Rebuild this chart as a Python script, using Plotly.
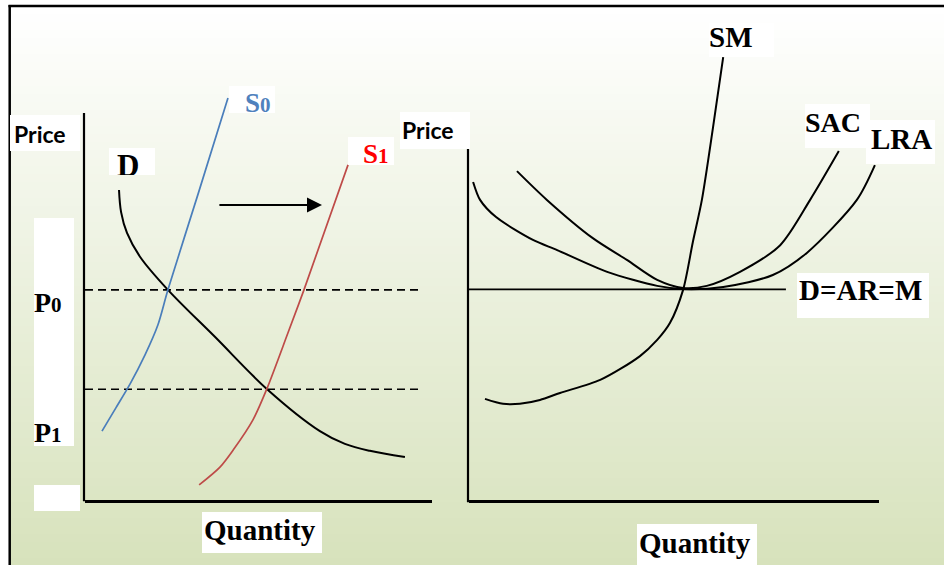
import plotly.graph_objects as go

W, H = 944, 565

# ---------------- Left panel: supply shift in the market ----------------
demand_q = [0.98, 1.04, 1.21, 1.59, 2.39, 3.75, 5.24, 6.77, 7.49, 8.21, 9.22]
demand_p = [8.01, 7.44, 6.90, 6.28, 5.43, 4.21, 2.87, 1.78, 1.45, 1.27, 1.11]

supply0_q = [0.49, 0.89, 1.30, 1.73, 2.10, 2.39, 3.26, 4.12]
supply0_p = [1.78, 2.38, 3.00, 3.75, 4.52, 5.43, 7.91, 10.39]

supply1_q = [3.29, 3.89, 4.27, 4.84, 5.24, 5.85, 6.31, 7.58]
supply1_p = [0.39, 0.85, 1.29, 2.07, 2.87, 4.32, 5.43, 8.66]

price_levels = [5.43, 2.86]          # P0, P1
price_dash_end = [9.60, 9.65]
shift_arrow_q = [3.83, 6.83]
shift_arrow_p = 7.62
left_price_top = 10.0

# ---------------- Right panel: the firm's cost curves ----------------
sm_q = [0.39, 0.83, 1.24, 1.73, 2.22, 3.20, 4.17, 4.59, 4.90, 5.22, 5.46, 5.68, 5.95, 6.20]
sm_p = [2.88, 2.74, 2.74, 2.85, 3.05, 3.42, 4.10, 4.56, 5.04, 5.98, 7.35, 8.55, 10.60, 12.62]

sac_q = [1.17, 1.90, 3.02, 3.85, 4.59, 5.22, 5.80, 6.61, 7.59, 8.32, 9.02]
sac_p = [9.37, 8.55, 7.46, 6.84, 6.27, 6.04, 6.10, 6.50, 7.26, 8.55, 9.94]

lra_q = [0.10, 0.27, 0.66, 1.56, 2.15, 3.37, 4.59, 5.22, 6.20, 7.41, 8.24, 9.46, 9.90]
lra_p = [9.06, 8.55, 8.06, 7.41, 7.12, 6.50, 6.10, 6.01, 6.07, 6.41, 7.04, 8.55, 9.54]

mr_price = 6.0
mr_end_q = 7.73
right_price_top = 10.0


def px(x):
    return x / W


def py(y):
    return 1 - y / H


LX_DOM, LY_DOM, LY_RANGE = [px(85), px(432)], [py(500), py(90)], [0, 410 / 38.7]
RX_DOM, RY_DOM, RY_RANGE = [px(469), px(879)], [py(500), py(50)], [0, 450 / 35.1]


def to_paper_y(v, dom, rng):
    return dom[0] + (v - rng[0]) / (rng[1] - rng[0]) * (dom[1] - dom[0])


fig = go.Figure()

BLUE, RED = "#4a7ebb", "#be4b48"

# left panel traces
for p, xe in zip(price_levels, price_dash_end):
    fig.add_trace(go.Scatter(x=[0, xe], y=[p, p], mode="lines",
                             line=dict(color="black", width=1.6, dash="8px,5px"),
                             xaxis="x", yaxis="y"))
fig.add_trace(go.Scatter(x=demand_q, y=demand_p, mode="lines",
                         line=dict(color="black", width=2, shape="spline", smoothing=1.0),
                         xaxis="x", yaxis="y"))
fig.add_trace(go.Scatter(x=supply0_q, y=supply0_p, mode="lines",
                         line=dict(color=BLUE, width=1.7, shape="spline", smoothing=0.8),
                         xaxis="x", yaxis="y"))
fig.add_trace(go.Scatter(x=supply1_q, y=supply1_p, mode="lines",
                         line=dict(color=RED, width=1.7, shape="spline", smoothing=0.8),
                         xaxis="x", yaxis="y"))

# right panel traces
fig.add_trace(go.Scatter(x=[0, mr_end_q], y=[mr_price, mr_price], mode="lines",
                         line=dict(color="black", width=1.8), xaxis="x2", yaxis="y2"))
for cq, cp in ((sm_q, sm_p), (sac_q, sac_p), (lra_q, lra_p)):
    fig.add_trace(go.Scatter(x=cq, y=cp, mode="lines",
                             line=dict(color="black", width=2, shape="spline", smoothing=0.8),
                             xaxis="x2", yaxis="y2"))

# the "D" label sits in its own small clipped box
fig.add_trace(go.Scatter(x=[0.42], y=[0.24], mode="text", text=["<b>D</b>"], cliponaxis=True,
                         textfont=dict(family="Liberation Serif", size=31, color="black",
                                       weight="bold"),
                         textposition="middle center", xaxis="x3", yaxis="y3"))

shapes = []
# background gradient inside the frame
top, bottom, n = 6, 566, 70
c0, c1 = (255, 255, 255), (215, 226, 188)
for i in range(n):
    y0 = top + (bottom - top) * i / n
    y1 = top + (bottom - top) * (i + 1) / n
    t = (i + 0.5) / n
    col = tuple(round(a + (b - a) * t) for a, b in zip(c0, c1))
    shapes.append(dict(type="rect", xref="paper", yref="paper", x0=px(10), x1=1.0,
                       y0=py(y1) - 0.001, y1=py(y0), fillcolor="rgb(%d,%d,%d)" % col,
                       line=dict(width=0), layer="below"))
# frame
shapes.append(dict(type="line", xref="paper", yref="paper", x0=px(9.7), x1=px(9.7), y0=0, y1=py(5),
                   line=dict(color="black", width=2.5), layer="below"))
shapes.append(dict(type="line", xref="paper", yref="paper", x0=px(8.5), x1=1, y0=py(6), y1=py(6),
                   line=dict(color="black", width=2.5), layer="below"))
# white label boxes
boxes = [(10, 115, 80, 151), (109, 148, 155, 175), (229, 86, 275, 113), (348, 137, 394, 165),
         (400, 112, 470, 149), (34, 218, 74, 446), (34, 485, 80, 511), (202, 512, 322, 553),
         (709, 23, 774, 57), (805, 104, 870, 148), (866, 120, 935, 164), (797, 273, 929, 318),
         (637, 524, 757, 565)]
for x0, y0, x1, y1 in boxes:
    shapes.append(dict(type="rect", xref="paper", yref="paper", x0=px(x0), x1=px(x1),
                       y0=py(y1), y1=py(y0), fillcolor="white", line=dict(width=0), layer="below"))
# vertical price axes
shapes.append(dict(type="line", xref="paper", yref="paper", x0=LX_DOM[0] - px(1), x1=LX_DOM[0] - px(1),
                   y0=LY_DOM[0] - 0.002, y1=to_paper_y(left_price_top, LY_DOM, LY_RANGE),
                   line=dict(color="black", width=2.2)))
shapes.append(dict(type="line", xref="paper", yref="paper", x0=RX_DOM[0] - px(1), x1=RX_DOM[0] - px(1),
                   y0=RY_DOM[0] - 0.004, y1=to_paper_y(right_price_top, RY_DOM, RY_RANGE),
                   line=dict(color="black", width=2.2)))

SERIF = "Liberation Serif"
SANS = "Lato"


def label(x, y, text, size, color="black", family=SERIF):
    return dict(x=px(x), y=py(y), xref="paper", yref="paper", text=text, showarrow=False,
                xanchor="center", yanchor="middle",
                font=dict(family=family, size=size, color=color, weight="bold"))


def sub(main, digit, size):
    return "<b>%s<span style='font-size:%dpx'>%s</span></b>" % (main, size, digit)


annotations = [
    label(40, 134, "<b>Price</b>", 23, family=SANS),
    label(428, 130, "<b>Price</b>", 23, family=SANS),
    label(258, 103, sub("S", "0", 21), 27, color="#4f81bd"),
    label(376, 154, sub("S", "1", 21), 27, color="#ff0000"),
    label(48, 302, sub("P", "0", 21), 28),
    label(48, 432, sub("P", "1", 21), 28),
    label(260, 530, "<b>Quantity</b>", 29),
    label(695, 543, "<b>Quantity</b>", 29),
    label(731, 37, "<b>SM</b>", 29),
    label(833, 122, "<b>SAC</b>", 28),
    label(901, 139, "<b>LRA</b>", 29),
    label(860, 290, "<b>D=AR=M</b>", 29),
    dict(x=shift_arrow_q[1], y=shift_arrow_p, ax=shift_arrow_q[0], ay=shift_arrow_p,
         xref="x", yref="y", axref="x", ayref="y", text="", showarrow=True,
         arrowhead=2, arrowsize=1.5, arrowwidth=2, arrowcolor="black"),
]

axis_common = dict(showgrid=False, zeroline=False, showticklabels=False, ticks="", fixedrange=True)

fig.update_layout(
    width=W, height=H, margin=dict(l=0, r=0, t=0, b=0),
    paper_bgcolor="white", plot_bgcolor="rgba(0,0,0,0)",
    showlegend=False, hovermode=False,
    xaxis=dict(domain=LX_DOM, range=[0, 10], anchor="y", showline=True, linecolor="black",
               linewidth=2.5, **axis_common),
    yaxis=dict(domain=LY_DOM, range=LY_RANGE, anchor="x", showline=False, **axis_common),
    xaxis2=dict(domain=RX_DOM, range=[0, 10], anchor="y2", showline=True, linecolor="black",
                linewidth=2.5, **axis_common),
    yaxis2=dict(domain=RY_DOM, range=RY_RANGE, anchor="x2", showline=False, **axis_common),
    xaxis3=dict(domain=[px(109), px(155)], range=[0, 1], anchor="y3", visible=False, fixedrange=True),
    yaxis3=dict(domain=[py(175), py(148)], range=[0, 1], anchor="x3", visible=False, fixedrange=True),
    shapes=shapes,
    annotations=annotations,
)

fig.write_html("out.html")
